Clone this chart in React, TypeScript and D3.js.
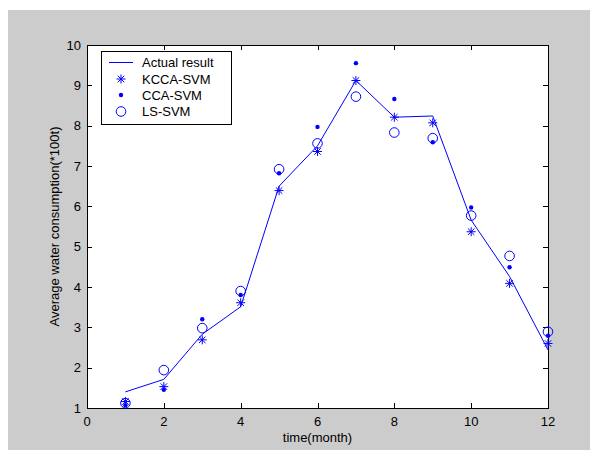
import React, { useEffect, useRef } from 'react'
import * as d3 from 'd3'

// months on the x axis
const months = [1, 2, 3, 4, 5, 6, 7, 8, 9, 10, 11, 12]
// water consumption (*100t)
const actualResult = [1.4, 1.71, 2.83, 3.51, 6.5, 7.5, 9.12, 8.21, 8.24, 5.66, 4.26, 2.44]
const kccaSvm = [1.16, 1.53, 2.69, 3.61, 6.39, 7.36, 9.12, 8.21, 8.07, 5.37, 4.09, 2.6]
const ccaSvm = [1.07, 1.45, 3.2, 3.8, 6.82, 7.97, 9.55, 8.66, 7.59, 5.97, 4.49, 2.79]
const lsSvm = [1.12, 1.94, 2.98, 3.9, 6.92, 7.56, 8.72, 7.83, 7.69, 5.77, 4.77, 2.89]

const xTicks = [0, 2, 4, 6, 8, 10, 12]
const yTicks = [1, 2, 3, 4, 5, 6, 7, 8, 9, 10]
const legendLabels = ['Actual result', 'KCCA-SVM', 'CCA-SVM', 'LS-SVM']

const W = 590
const H = 450
const FONT = 'Arial, "Liberation Sans", sans-serif'
const BLUE = '#0000ff'

const App = () => {
  const svgRef = useRef<SVGSVGElement>(null)

  useEffect(() => {
    const svg = d3.select(svgRef.current)
    svg.selectAll('*').remove()

    const margin = { left: 87, right: 548, top: 45, bottom: 408 }

    // figure background
    svg.append('rect').attr('x', 8).attr('y', 10).attr('width', W - 8).attr('height', H - 10).attr('fill', '#cccccc')

    const x = d3.scaleLinear().domain([0, 12]).range([margin.left, margin.right])
    const y = d3.scaleLinear().domain([1, 10]).range([margin.bottom, margin.top])

    // axes box
    svg
      .append('rect')
      .attr('x', margin.left)
      .attr('y', margin.top)
      .attr('width', margin.right - margin.left)
      .attr('height', margin.bottom - margin.top)
      .attr('fill', '#ffffff')

    const tickLen = 5
    const g = svg.append('g').attr('stroke', '#000').attr('stroke-width', 1).attr('shape-rendering', 'crispEdges')

    // x ticks, bottom and top, inward
    xTicks.forEach((t) => {
      const px = Math.round(x(t)) + 0.5
      g.append('line').attr('x1', px).attr('x2', px).attr('y1', margin.bottom).attr('y2', margin.bottom - tickLen)
      g.append('line').attr('x1', px).attr('x2', px).attr('y1', margin.top).attr('y2', margin.top + tickLen)
    })
    yTicks.forEach((t) => {
      const py = Math.round(y(t)) + 0.5
      g.append('line').attr('x1', margin.left).attr('x2', margin.left + tickLen).attr('y1', py).attr('y2', py)
      g.append('line').attr('x1', margin.right).attr('x2', margin.right - tickLen).attr('y1', py).attr('y2', py)
    })

    svg
      .append('rect')
      .attr('x', margin.left + 0.5)
      .attr('y', margin.top + 0.5)
      .attr('width', margin.right - margin.left)
      .attr('height', margin.bottom - margin.top)
      .attr('fill', 'none')
      .attr('stroke', '#000')
      .attr('shape-rendering', 'crispEdges')

    // tick labels
    svg
      .selectAll('.xt')
      .data(xTicks)
      .enter()
      .append('text')
      .attr('x', (d) => x(d))
      .attr('y', margin.bottom + 18)
      .attr('text-anchor', 'middle')
      .attr('font-family', FONT)
      .attr('font-size', 13)
      .text((d) => d)

    svg
      .selectAll('.yt')
      .data(yTicks)
      .enter()
      .append('text')
      .attr('x', margin.left - 6)
      .attr('y', (d) => y(d) + 4.5)
      .attr('text-anchor', 'end')
      .attr('font-family', FONT)
      .attr('font-size', 13)
      .text((d) => d)

    // axis labels
    svg
      .append('text')
      .attr('x', (margin.left + margin.right) / 2)
      .attr('y', 442)
      .attr('text-anchor', 'middle')
      .attr('font-family', FONT)
      .attr('font-size', 13)
      .text('time(month)')

    svg
      .append('text')
      .attr('transform', `translate(59, ${(margin.top + margin.bottom) / 2}) rotate(-90)`)
      .attr('text-anchor', 'middle')
      .attr('font-family', FONT)
      .attr('font-size', 13)
      .text('Average water consumption(*100t)')

    // marker shapes
    const starPath = (cx: number, cy: number, r: number) => {
      const d = r * 0.72
      return `M${cx - r},${cy}H${cx + r}M${cx},${cy - r}V${cy + r}M${cx - d},${cy - d}L${cx + d},${cy + d}M${cx - d},${cy + d}L${cx + d},${cy - d}`
    }

    // actual result line
    const line = d3
      .line<number>()
      .x((_, i) => x(months[i]))
      .y((d) => y(d))
    svg.append('path').attr('d', line(actualResult)).attr('fill', 'none').attr('stroke', BLUE).attr('stroke-width', 1)

    // KCCA-SVM stars
    svg
      .selectAll('.kcca')
      .data(kccaSvm)
      .enter()
      .append('path')
      .attr('d', (d, i) => starPath(x(months[i]), y(d), 4.5))
      .attr('stroke', BLUE)
      .attr('stroke-width', 1)
      .attr('fill', 'none')

    // CCA-SVM dots
    svg
      .selectAll('.cca')
      .data(ccaSvm)
      .enter()
      .append('circle')
      .attr('cx', (d, i) => x(months[i]))
      .attr('cy', (d) => y(d))
      .attr('r', 2.2)
      .attr('fill', BLUE)

    // LS-SVM circles
    svg
      .selectAll('.ls')
      .data(lsSvm)
      .enter()
      .append('circle')
      .attr('cx', (d, i) => x(months[i]))
      .attr('cy', (d) => y(d))
      .attr('r', 4.8)
      .attr('fill', 'none')
      .attr('stroke', BLUE)
      .attr('stroke-width', 1)

    // legend
    const lg = svg.append('g')
    lg.append('rect')
      .attr('x', 101.5)
      .attr('y', 51.5)
      .attr('width', 130)
      .attr('height', 73)
      .attr('fill', '#ffffff')
      .attr('stroke', '#000')
      .attr('shape-rendering', 'crispEdges')

    const rowY = [62.5, 79, 95, 111.5]
    legendLabels.forEach((label, i) => {
      const ry = rowY[i]
      if (i === 0) {
        lg.append('line').attr('x1', 109).attr('x2', 133).attr('y1', ry).attr('y2', ry).attr('stroke', BLUE)
      } else if (i === 1) {
        lg.append('path').attr('d', starPath(121, ry, 4.5)).attr('stroke', BLUE).attr('fill', 'none')
      } else if (i === 2) {
        lg.append('circle').attr('cx', 121).attr('cy', ry).attr('r', 2.2).attr('fill', BLUE)
      } else {
        lg.append('circle').attr('cx', 121).attr('cy', ry).attr('r', 4.8).attr('fill', 'none').attr('stroke', BLUE)
      }
      lg.append('text')
        .attr('x', 142)
        .attr('y', ry + 4.5)
        .attr('font-family', FONT)
        .attr('font-size', 13)
        .text(label)
    })
  }, [])

  return (
    <svg ref={svgRef} width={W} height={H} style={{ position: 'absolute', left: 0, top: 0, display: 'block' }} />
  )
}

export default App
